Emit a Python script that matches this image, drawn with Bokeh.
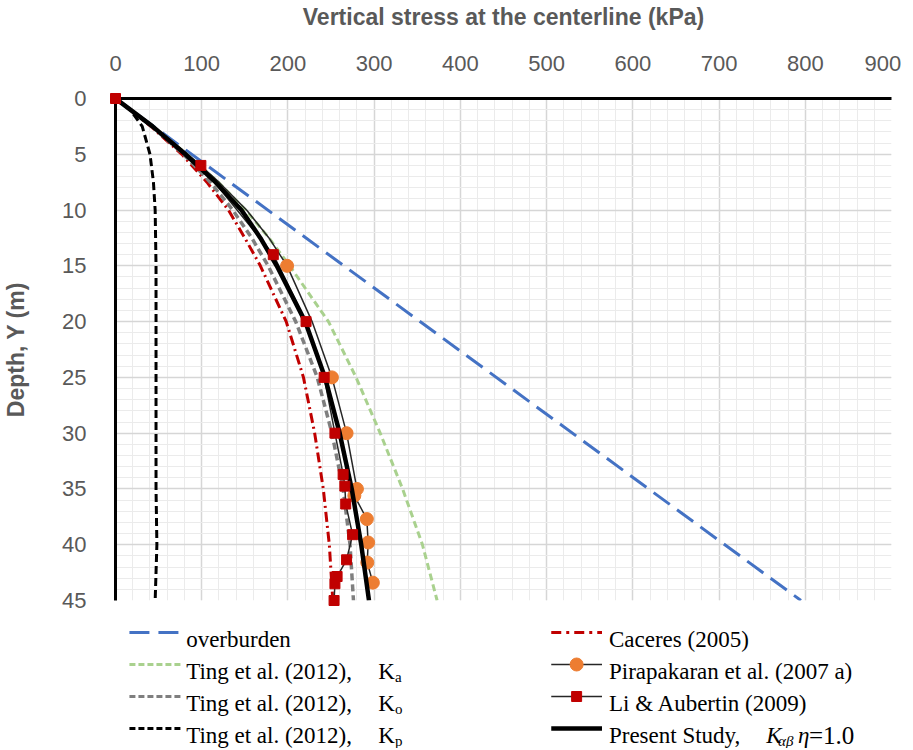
from bokeh.plotting import figure
from bokeh.models import Range1d, SingleIntervalTicker
from bokeh.layouts import column
from bokeh.core.properties import value
from bokeh.embed import file_html
from bokeh.resources import INLINE

# ---------------- data (depth in m, vertical stress in kPa) ----------------
x_ticks_max = 900
y_ticks_max = 45

overburden_depth = [0, 45]
overburden_stress = [0, 795]

curve_depth = [0, 2.5, 5, 7.5, 10, 12.5, 15, 20, 25, 30, 35, 40, 45]
caceres_stress = [0, 41, 77, 106, 131, 150, 168, 198, 218, 231, 241, 248, 252]
ting_ka_stress = [0, 43, 83, 119, 151, 178, 202, 247, 279, 307, 333, 356, 373]
ting_ko_stress = [0, 42, 79, 110, 136, 158, 177, 209, 234, 251, 264, 272, 276]
present_stress = [0, 43, 81, 116, 146, 168, 187, 220, 243, 260, 274, 285, 294]

ting_kp_depth = [0, 1, 2.5, 5, 7.5, 10, 15, 20, 25, 30, 35, 40, 45]
ting_kp_stress = [0, 17, 31, 40, 44, 46, 47, 47, 47, 47, 47, 48, 46]

pir_depth = [0, 2.5, 5, 7.5, 10, 12.5, 15, 20, 25, 30, 35, 35.6, 37.7, 39.8, 41.6, 43.4]
pir_stress = [0, 44, 84, 120, 152, 178, 199, 228, 251, 268, 280, 277, 291.5, 293, 292, 298.5]
pir_marked = [False, False, False, False, False, False, True, False, True, True,
              True, True, True, True, True, True]

li_depth = [0, 6, 14, 20, 25, 30, 33.7, 34.75, 36.35, 39.1, 41.35, 42.85, 43.5, 45]
li_stress = [0, 99, 183, 221, 242, 254.5, 264, 266, 267, 275, 268, 257, 254.5, 253.5]

legend_left = ["overburden", "Ting et al. (2012),", "Ting et al. (2012),", "Ting et al. (2012),"]
legend_left_sub = ["", "a", "o", "p"]
legend_right = ["Caceres (2005)", "Pirapakaran et al. (2007 a)", "Li & Aubertin (2009)", "Present Study,"]

# ---------------- styles ----------------
BLUE = "#4472C4"
GREEN = "#A9D18E"
GRAY = "#7F7F7F"
RED = "#C00000"
ORANGE = "#ED7D31"
DARK = "#262626"
LABEL_GRAY = "#595959"

W = 913
BL, BR = 111, 22
MAIN_H = 612
TOTAL_H = 748

p = figure(width=W, height=MAIN_H,
           x_range=Range1d(0, x_ticks_max), y_range=Range1d(y_ticks_max, 0),
           x_axis_location="above",
           output_backend="svg", toolbar_location=None,
           min_border_left=BL, min_border_right=BR,
           min_border_top=93, min_border_bottom=12)
p.outline_line_color = None

xt = SingleIntervalTicker(interval=100, num_minor_ticks=5)
yt = SingleIntervalTicker(interval=5, num_minor_ticks=5)

xa = p.xaxis[0]
xa.ticker = xt
xa.axis_label = "Vertical stress at the centerline (kPa)"
xa.major_label_overrides = {x_ticks_max: str(x_ticks_max) + "\u00a0\u00a0"}
ya = p.yaxis[0]
ya.ticker = yt
ya.axis_label = "Depth, Y (m)"

for ax in (xa, ya):
    ax.axis_line_color = "black"
    ax.axis_line_width = 3
    ax.major_tick_line_color = None
    ax.minor_tick_line_color = None
    ax.major_label_text_font = "Liberation Sans"
    ax.major_label_text_font_size = "22px"
    ax.major_label_text_color = LABEL_GRAY
    ax.axis_label_text_font = "Liberation Sans"
    ax.axis_label_text_font_size = "23px"
    ax.axis_label_text_font_style = "bold"
    ax.axis_label_text_color = LABEL_GRAY
xa.major_label_standoff = 17
xa.axis_label_standoff = 18
ya.major_label_standoff = 23
ya.axis_label_standoff = 30

p.xgrid[0].ticker = xt
p.ygrid[0].ticker = yt
for g in (p.xgrid[0], p.ygrid[0]):
    g.grid_line_color = "#D6D6D6"
    g.grid_line_width = 1.5
    g.minor_grid_line_color = "#EBEBEB"
    g.minor_grid_line_width = 1

# series (drawn in Excel series order)
p.line(overburden_stress, overburden_depth, line_color=BLUE, line_width=3, line_dash="20 9")
p.line(caceres_stress, curve_depth, line_color=RED, line_width=3, line_dash="10 4 2 4")
p.line(ting_ka_stress, curve_depth, line_color=GREEN, line_width=3, line_dash="7 4")
p.line(pir_stress, pir_depth, line_color=DARK, line_width=1.5)
p.scatter([s for s, m in zip(pir_stress, pir_marked) if m],
          [d for d, m in zip(pir_depth, pir_marked) if m],
          marker="circle", size=13, fill_color=ORANGE, line_color=ORANGE)
p.line(ting_ko_stress, curve_depth, line_color=GRAY, line_width=3.5, line_dash="7 4")
p.line(li_stress, li_depth, line_color=DARK, line_width=1.5)
p.line(ting_kp_stress, ting_kp_depth, line_color="black", line_width=3, line_dash="8 4")
p.line(present_stress, curve_depth, line_color="black", line_width=4.5)
p.scatter(li_stress, li_depth, marker="square", size=10, fill_color=RED, line_color=RED,
          level="overlay")

# ---------------- legend (strip under the chart, coordinates = page pixels) ----------------
LH = TOTAL_H - MAIN_H
lg = figure(width=W, height=LH, x_range=Range1d(BL, W - BR), y_range=Range1d(TOTAL_H, MAIN_H),
            x_axis_location=None, y_axis_location=None,
            output_backend="svg", toolbar_location=None,
            min_border_left=BL, min_border_right=BR, min_border_top=0, min_border_bottom=0)
lg.outline_line_color = None
lg.grid.visible = False

row_base = [639, 671, 703, 735]
row_mid = [b - 7 for b in row_base]
LX0, LX1, LTX = 125, 178, 182
RX0, RX1, RTX = 549, 600, 607
KX, KSUBX = 375, 392
FONT = value("Liberation Serif")
FS = "23px"

left_styles = [
    dict(line_color=BLUE, line_width=3, line_dash="20 9"),
    dict(line_color=GREEN, line_width=3, line_dash="6 3"),
    dict(line_color=GRAY, line_width=3, line_dash="6 3"),
    dict(line_color="black", line_width=3, line_dash="6 3"),
]
right_styles = [
    dict(line_color=RED, line_width=3, line_dash="10 5 3 5"),
    dict(line_color=DARK, line_width=1.5),
    dict(line_color=DARK, line_width=1.5),
    dict(line_color="black", line_width=4.5),
]

for i in range(4):
    lg.line([LX0, LX1], [row_mid[i]] * 2, **left_styles[i])
    lg.line([RX0, RX1], [row_mid[i]] * 2, **right_styles[i])
    lg.text([LTX], [row_base[i]], text=[legend_left[i]], text_font=FONT,
            text_font_size=FS, text_baseline="alphabetic", text_color="black")
    lg.text([RTX], [row_base[i]], text=[legend_right[i]], text_font=FONT,
            text_font_size=FS, text_baseline="alphabetic", text_color="black")
    if legend_left_sub[i]:
        lg.text([KX], [row_base[i]], text=["K"], text_font=FONT, text_font_size=FS,
                text_baseline="alphabetic", text_color="black")
        lg.text([KSUBX], [row_base[i] + 5], text=[legend_left_sub[i]], text_font=FONT,
                text_font_size="15px", text_baseline="alphabetic", text_color="black")

lg.scatter([(RX0 + RX1) / 2], [row_mid[1]], marker="circle", size=13,
           fill_color=ORANGE, line_color=ORANGE)
lg.scatter([(RX0 + RX1) / 2], [row_mid[2]], marker="square", size=10,
           fill_color=RED, line_color=RED)

b = row_base[3]
lg.text([765], [b], text=["K"], text_font=FONT, text_font_size=FS,
        text_font_style="italic", text_baseline="alphabetic")
lg.text([777], [b + 5], text=["αβ"], text_font=FONT, text_font_size="15px",
        text_font_style="italic", text_baseline="alphabetic")
lg.text([797], [b], text=["η"], text_font=FONT, text_font_size=FS,
        text_font_style="italic", text_baseline="alphabetic")
lg.text([808], [b], text=["=1.0"], text_font=FONT, text_font_size="25px",
        text_baseline="alphabetic")

layout = column(p, lg, spacing=0)
open("out.html", "w").write(file_html(layout, INLINE))
